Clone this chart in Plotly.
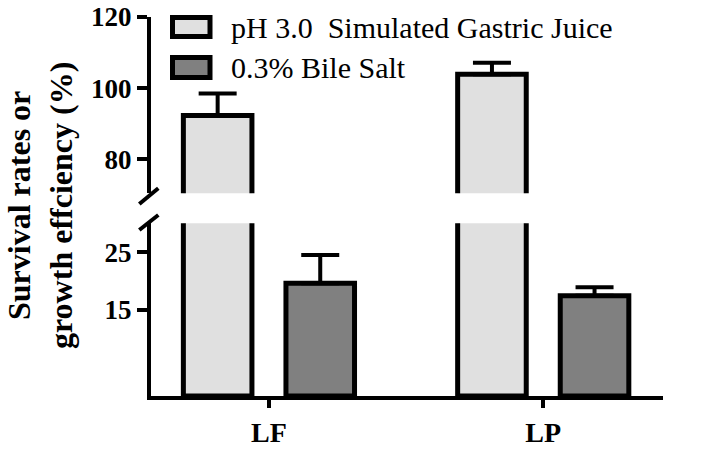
import plotly.graph_objects as go

categories = ["LF", "LP"]
series_names = ["pH 3.0  Simulated Gastric Juice", "0.3% Bile Salt"]
gastric = [92.3, 103.9]
gastric_err = [6.2, 3.2]
bile = [19.6, 17.4]
bile_err = [4.9, 1.5]
lower_ticks = [15, 25]
upper_ticks = [80, 100, 120]
y_title = "Survival rates or<br>growth effciency (%)"

fills = ["#e0e0e0", "#808080"]
bar_offsets = [-0.312, 0.062]
bar_width = 0.25
W, H = 728, 454
ML, MR, MT, MB = 151, 65, 17, 58
PW, PH = W - ML - MR, H - MT - MB


def px_x(p):
    return (p - ML) / PW


def px_y(p):
    return (H - MB - p) / PH


fig = go.Figure()
series = [(gastric, gastric_err), (bile, bile_err)]
for yax in ["y", "y2"]:
    for i, (vals, errs) in enumerate(series):
        fig.add_trace(go.Bar(
            x=categories, y=vals, yaxis=yax, xaxis="x",
            name=series_names[i], showlegend=False,
            width=bar_width, offset=bar_offsets[i],
            marker=dict(color=fills[i], line=dict(color="black", width=5)),
            error_y=dict(type="data", symmetric=False, array=errs,
                         arrayminus=[0] * len(errs), color="black",
                         thickness=4, width=19),
        ))

bold_tick = dict(family="Liberation Serif", size=27, color="black", weight="bold")
axis_common = dict(showline=True, linecolor="black", linewidth=4,
                   ticks="outside", ticklen=10, tickwidth=4, tickcolor="black",
                   showgrid=False, zeroline=False, tickfont=bold_tick)

fig.update_layout(
    width=W, height=H,
    margin=dict(l=ML, r=MR, t=MT, b=MB, autoexpand=False),
    paper_bgcolor="white", plot_bgcolor="white",
    barmode="overlay",
    xaxis=dict(range=[-0.43, 1.4366], anchor="y", showline=True,
               linecolor="black", linewidth=4, ticks="outside", ticklen=8,
               tickwidth=4, tickcolor="black", showgrid=False, zeroline=False,
               tickfont=dict(family="Liberation Serif", size=28, color="black",
                             weight="bold")),
    yaxis=dict(domain=[0, px_y(223.3)], range=[0, 30], tickvals=lower_ticks,
               **axis_common),
    yaxis2=dict(domain=[px_y(193.3), 1], range=[70.4, 120], tickvals=upper_ticks,
                anchor="x", **axis_common),
    showlegend=False,
)

# axis break marks
for (x0, y0, x1, y1) in [(139.3, 204, 158.3, 188.3), (139.3, 230, 158.3, 215)]:
    fig.add_shape(type="line", xref="paper", yref="paper",
                  x0=px_x(x0), y0=px_y(y0), x1=px_x(x1), y1=px_y(y1),
                  line=dict(color="black", width=4))

# y-axis title
fig.add_annotation(text=y_title, xref="paper", yref="paper",
                   x=px_x(40), y=px_y(206), xanchor="center", yanchor="middle",
                   textangle=-90, showarrow=False,
                   font=dict(family="Liberation Serif", size=32, color="black",
                             weight="bold"))

# custom legend
legend_rows = [(17.5, 36.5), (57.5, 77.5)]
for i, (t, b) in enumerate(legend_rows):
    fig.add_shape(type="rect", xref="paper", yref="paper",
                  x0=px_x(172.5), x1=px_x(210), y0=px_y(b), y1=px_y(t),
                  fillcolor=fills[i], line=dict(color="black", width=5))
    fig.add_annotation(text=series_names[i].replace("  ", "&nbsp; "),
                       xref="paper", yref="paper", x=px_x(229),
                       y=px_y((t + b) / 2), xanchor="left", yanchor="middle",
                       showarrow=False,
                       font=dict(family="Liberation Serif", size=30, color="black"))

fig.write_html("out.html", config={"displayModeBar": False},
               post_script="document.body.style.margin='0';")
